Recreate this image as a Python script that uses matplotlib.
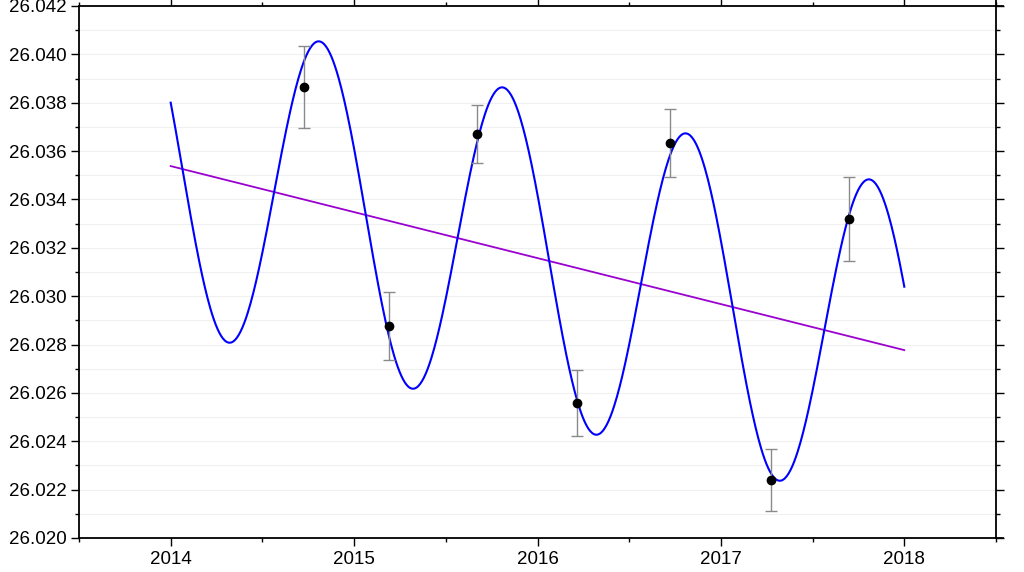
import numpy as np
import matplotlib
matplotlib.use("Agg")
import matplotlib.pyplot as plt
from matplotlib.ticker import MultipleLocator, FormatStrFormatter

# observed points (decimal year, value, 1-sigma error)
obs_t = [2014.726, 2015.190, 2015.670, 2016.216, 2016.723, 2017.274, 2017.700]
obs_y = [26.03865, 26.02877, 26.03671, 26.02558, 26.03633, 26.02240, 26.03319]
obs_err = [0.00168, 0.00140, 0.00120, 0.00138, 0.00142, 0.00130, 0.00172]

# linear trend line (end points)
trend_t = [2014.0, 2018.0]
trend_y = [26.03538, 26.02777]

# annual fit parameters: trend + amplitude * sin(2*pi*(t - t0))
fit_amp = 0.0067
fit_t0 = 2013.564
fit_period = 1.0

plt.rcParams['font.family'] = ['Liberation Sans', 'DejaVu Sans']

fig = plt.figure(figsize=(10.24, 5.72), dpi=100)
ax = fig.add_axes([79 / 1024, 34 / 572, 917 / 1024, 532 / 572])

t = np.linspace(trend_t[0], trend_t[1], 800)
slope = (trend_y[1] - trend_y[0]) / (trend_t[1] - trend_t[0])
model = trend_y[0] + slope * (t - trend_t[0]) + fit_amp * np.sin(2 * np.pi * (t - fit_t0) / fit_period)

ax.plot(t, model, color='#0000ff', lw=1.5, zorder=3)
ax.plot(trend_t, trend_y, color='#9a00d0', lw=1.3, zorder=2)
ax.errorbar(obs_t, obs_y, yerr=obs_err, fmt='none', ecolor='#8a8a8a', elinewidth=1,
            capsize=4.5, capthick=1, zorder=4)
ax.plot(obs_t, obs_y, 'o', color='black', markersize=6, zorder=5)

ax.set_xlim(2013.5, 2018.5)
ax.set_ylim(26.020, 26.042)
ax.xaxis.set_major_locator(MultipleLocator(1))
ax.xaxis.set_minor_locator(MultipleLocator(0.5))
ax.yaxis.set_major_locator(MultipleLocator(0.002))
ax.yaxis.set_minor_locator(MultipleLocator(0.001))
ax.yaxis.set_major_formatter(FormatStrFormatter('%.3f'))
ax.xaxis.set_major_formatter(FormatStrFormatter('%d'))

ax.grid(axis='y', which='both', color='#f0f0f0', lw=0.8, zorder=0)
ax.tick_params(which='both', direction='out', top=True, right=True, labelsize=13.5,
               width=1, color='black')
ax.tick_params(which='major', length=6, pad=3)
ax.tick_params(which='minor', length=3)
for s in ax.spines.values():
    s.set_linewidth(1.3)

# frame lines run a little past the corners
ext = 0.008
ax.plot([1, 1 + ext], [0, 0], transform=ax.transAxes, color='black', lw=1.3, clip_on=False)
ax.plot([1, 1 + ext], [1, 1], transform=ax.transAxes, color='black', lw=1.3, clip_on=False)
ax.plot([1, 1], [1, 1 + ext * 1.8], transform=ax.transAxes, color='black', lw=1.3, clip_on=False)

fig.savefig('out.png', dpi=100)
